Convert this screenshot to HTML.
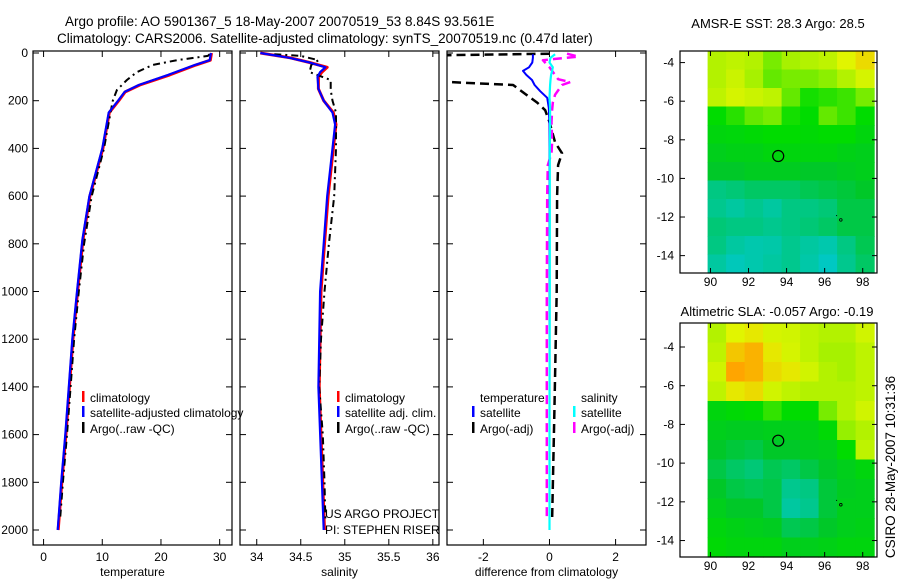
<!DOCTYPE html>
<html><head><meta charset="utf-8"><style>
html,body{margin:0;padding:0;background:#fff;}
svg{display:block;font-family:"Liberation Sans",sans-serif;}
</style></head><body>
<svg id="fig" width="900" height="580" viewBox="0 0 900 580" xmlns="http://www.w3.org/2000/svg">
<text x="65" y="26" font-size="13.5">Argo profile: AO 5901367_5 18-May-2007 20070519_53 8.84S 93.561E</text>
<text x="57" y="43" font-size="13.5">Climatology: CARS2006. Satellite-adjusted climatology: synTS_20070519.nc (0.47d later)</text>
<text x="778" y="28" font-size="13" text-anchor="middle">AMSR-E SST: 28.3 Argo: 28.5</text>
<text x="777" y="316" font-size="13" text-anchor="middle">Altimetric SLA: -0.057 Argo: -0.19</text>
<text x="0" y="0" font-size="13.5" text-anchor="middle" transform="translate(895,467) rotate(-90)">CSIRO 28-May-2007 10:31:36</text>
<g id="plots"></g>
</svg>
<script>
// ---- profile data (depth in dbar) ----
const tDepth = [0,30,50,92,134,163,200,250,400,600,785,1000,1200,1400,1600,1800,2000];
const tClim  = [28.6,28.4,26,21.5,16.4,13.9,12.8,11.2,10.1,7.9,6.7,5.8,5.0,4.4,3.8,3.1,2.5];
const tSat   = [28.5,28.3,25.8,21.2,16.2,13.8,12.7,11.1,10.0,7.8,6.6,5.7,4.9,4.3,3.7,3.0,2.4];
const aDepth = [5,12,30,50,80,113,155,200,250,400,600,800,1000,1200,1400,1600,1800,1960];
const tArgo  = [28.3,28,22.7,18.6,15.9,14.2,12.5,11.8,11.4,10.3,8.2,6.9,6.0,5.2,4.6,4.0,3.3,2.8];
const sDepth = [0,20,40,60,80,100,150,200,250,300,400,600,800,1000,1400,2000];
const sClim  = [34.04,34.38,34.6,34.8,34.74,34.7,34.7,34.76,34.87,34.9,34.87,34.81,34.77,34.73,34.71,34.77];
const sSat   = [34.04,34.37,34.6,34.78,34.72,34.69,34.7,34.76,34.86,34.89,34.86,34.8,34.76,34.72,34.7,34.76];
const sArgo  = [34.2,34.5,34.7,34.62,34.6,34.84,34.84,34.86,34.9,34.9,34.88,34.82,34.77,34.73,34.71,34.75,34.77,34.78];
// differences
const dDepth = [5,20,40,60,75,92,113,134,160,188,230,300,400,600,1000,1500,2000];
const dTSat  = [-0.5,-0.5,-0.52,-0.62,-0.8,-0.7,-0.53,-0.45,-0.28,-0.07,-0.02,0,0,0,0,0,0];
const dSSat  = [0.17,0.03,0,0.1,0.08,0.05,0.03,0.02,0.01,0,0.02,0.02,0.01,0.01,0.01,0,0];
const daDepth= [3,15,30,60,110,122,134,175,208,240,290,375,420,470,600,1000,1500,1960];
const dTArgo = [0,-6,-6,-6,-6,-3,-1.1,-0.7,-0.37,-0.13,0,0.17,0.38,0.26,0.23,0.22,0.15,0.08];
const dSArgo = [0.53,0.87,-0.2,0,0.26,0.63,0.38,0.17,0.1,0.08,0.06,0.08,0.06,-0.05,-0.07,-0.08,-0.08,-0.08];
// ---- axis labels ----
const depthTicks = [0,200,400,600,800,1000,1200,1400,1600,1800,2000];
const tTicks = [0,10,20,30];
const sTicks = [34,34.5,35,35.5,36];
const dTicks = [-2,0,2];
const lonTicks = [90,92,94,96,98];
const latTicks = [-4,-6,-8,-10,-12,-14];
// ---- map grids (normalized 0..1), 9 lon cols x 12 lat rows ----
const sstGrid = [
[0.8,0.82,0.8,0.72,0.78,0.8,0.82,0.88,0.92],
[0.8,0.84,0.78,0.7,0.72,0.72,0.74,0.8,0.86],
[0.82,0.86,0.84,0.82,0.7,0.62,0.64,0.66,0.72],
[0.6,0.64,0.7,0.72,0.62,0.6,0.7,0.66,0.6],
[0.55,0.56,0.58,0.6,0.6,0.58,0.6,0.6,0.55],
[0.5,0.52,0.52,0.55,0.55,0.55,0.55,0.52,0.5],
[0.45,0.45,0.48,0.48,0.48,0.45,0.45,0.48,0.5],
[0.3,0.32,0.35,0.35,0.35,0.38,0.4,0.42,0.45],
[0.28,0.25,0.28,0.25,0.3,0.3,0.32,0.4,0.4],
[0.32,0.3,0.3,0.28,0.3,0.32,0.35,0.4,0.4],
[0.3,0.25,0.2,0.22,0.28,0.25,0.2,0.3,0.38],
[0.25,0.15,0.2,0.25,0.28,0.22,0.12,0.28,0.35]];
const slaGrid = [
[0.8,0.88,0.9,0.86,0.85,0.82,0.8,0.8,0.85],
[0.82,0.95,0.98,0.9,0.86,0.82,0.78,0.78,0.82],
[0.85,1.0,0.98,0.92,0.9,0.85,0.8,0.78,0.82],
[0.82,0.9,0.92,0.85,0.82,0.8,0.8,0.8,0.82],
[0.55,0.58,0.6,0.65,0.6,0.6,0.72,0.8,0.85],
[0.5,0.48,0.48,0.5,0.5,0.52,0.58,0.75,0.8],
[0.45,0.42,0.4,0.45,0.45,0.48,0.5,0.6,0.82],
[0.4,0.35,0.32,0.38,0.35,0.4,0.45,0.5,0.55],
[0.45,0.4,0.38,0.4,0.28,0.3,0.42,0.48,0.5],
[0.5,0.45,0.45,0.4,0.25,0.28,0.42,0.5,0.5],
[0.55,0.52,0.5,0.48,0.38,0.4,0.45,0.5,0.52],
[0.58,0.55,0.55,0.55,0.5,0.5,0.52,0.55,0.55]];
const floatLon = 93.56, floatLat = -8.84;

const NS="http://www.w3.org/2000/svg";
const root=document.getElementById('plots');
function mk(tag,attrs,parent){const e=document.createElementNS(NS,tag);for(const k in attrs)e.setAttribute(k,attrs[k]);(parent||root).appendChild(e);return e;}
function txt(s,x,y,anchor,parent,size){const t=mk('text',{x:x,y:y,'font-size':size||12,'text-anchor':anchor||'start'},parent);t.textContent=s;return t;}

const pTop=51,pBot=545;
const yD=d=>53+d*0.2385;
function panel(id,x0,x1,xmin,xmax,ticks,xlabel,tickLabels){
  const g=mk('g',{});
  
  
  const sx=v=>x0+(v-xmin)/(xmax-xmin)*(x1-x0);
  const cid='clip-'+id;
  const cp=mk('clipPath',{id:cid},g);mk('rect',{x:x0,y:pTop,width:x1-x0,height:pBot-pTop},cp);
  mk('rect',{x:x0,y:pTop,width:x1-x0,height:pBot-pTop,fill:'none',stroke:'#000','stroke-width':1.2},g);
  depthTicks.forEach(d=>{const y=yD(d);mk('line',{x1:x0,x2:x0+6,y1:y,y2:y,stroke:'#000'},g);mk('line',{x1:x1-6,x2:x1,y1:y,y2:y,stroke:'#000'},g);});
  ticks.forEach((v,i)=>{const x=sx(v);mk('line',{x1:x,x2:x,y1:pTop,y2:pTop+6,stroke:'#000'},g);mk('line',{x1:x,x2:x,y1:pBot-6,y2:pBot,stroke:'#000'},g);
    const t=txt(tickLabels[i],x,561,'middle',g);});
  const xl=txt(xlabel,(x0+x1)/2,576,'middle',g);
  const lines=mk('g',{'clip-path':'url(#'+cid+')'},g);
  return {g,sx,lines};
}
function series(p,depths,vals,color,width,dash,name){
  const pts=depths.map((d,i)=>p.sx(vals[i]).toFixed(1)+','+yD(d).toFixed(1)).join(' ');
  const a={points:pts,fill:'none',stroke:color,'stroke-width':width,'stroke-linejoin':'round'};
  if(dash)a['stroke-dasharray']=dash;
  const e=mk('polyline',a,p.lines);
  
  
}
function legendEntry(g,x,y,color,label,name){
  mk('rect',{x:x,y:y-11,width:2.5,height:11,fill:color},g);
  const t=txt(label,x+8,y,'start',g);
  
  
}

// y tick labels
depthTicks.forEach(d=>{const t=txt(String(d),28,yD(d)+4,'end');});

const p1=panel('temperature-panel',33,232,-1.8,32.1,tTicks,'temperature',tTicks.map(String));
series(p1,tDepth,tClim,'#f00',3,null,'temp-climatology-line');
series(p1,aDepth,tArgo,'#000',2,'7,4,2,4','temp-argo-line');
series(p1,tDepth,tSat,'#00f',2.2,null,'temp-satellite-line');
legendEntry(p1.g,82,402,'#f00','climatology','legend-climatology');
legendEntry(p1.g,82,417,'#00f','satellite-adjusted climatology','legend-satellite');
legendEntry(p1.g,82,433,'#000','Argo(..raw -QC)','legend-argo');

const p2=panel('salinity-panel',240,439,33.81,36.07,sTicks,'salinity',sTicks.map(String));
series(p2,sDepth,sClim,'#f00',3,null,'sal-climatology-line');
series(p2,aDepth,sArgo,'#000',2,'7,4,2,4','sal-argo-line');
series(p2,sDepth,sSat,'#00f',2.2,null,'sal-satellite-line');
legendEntry(p2.g,337,402,'#f00','climatology','legend-climatology');
legendEntry(p2.g,337,417,'#00f','satellite adj. clim.','legend-satellite');
legendEntry(p2.g,337,433,'#000','Argo(..raw -QC)','legend-argo');
const n1=txt('US ARGO PROJECT',325,518,'start',p2.g);
const n2=txt('PI: STEPHEN RISER',325,534,'start',p2.g);

const p3=panel('difference-panel',447,646,-3.1,2.92,dTicks,'difference from climatology',dTicks.map(String));
series(p3,daDepth,dTArgo,'#000',2.5,'9,5','diff-temp-argo-line');
series(p3,daDepth,dSArgo,'#f0f',2.5,'9,5','diff-sal-argo-line');
series(p3,dDepth,dTSat,'#00f',2,null,'diff-temp-satellite-line');
series(p3,dDepth,dSSat,'#0ff',2.2,null,'diff-sal-satellite-line');
const h1=txt('temperature',480,402,'start',p3.g);
const h2=txt('salinity',581,402,'start',p3.g);
legendEntry(p3.g,472,417,'#00f','satellite','legend-temp-satellite');
legendEntry(p3.g,472,433,'#000','Argo(-adj)','legend-temp-argo');
legendEntry(p3.g,573,417,'#0ff','satellite','legend-sal-satellite');
legendEntry(p3.g,573,433,'#f0f','Argo(-adj)','legend-sal-argo');

// ---- maps ----
const stops=[[0,[0,200,225]],[0.25,[0,200,160]],[0.45,[0,200,40]],[0.6,[0,220,0]],[0.75,[150,240,0]],[0.88,[225,245,0]],[1,[255,165,0]]];
function cmap(v){for(let i=1;i<stops.length;i++){if(v<=stops[i][0]){const a=stops[i-1],b=stops[i],t=(v-a[0])/(b[0]-a[0]);return 'rgb('+a[1].map((c,k)=>Math.round(c+(b[1][k]-c)*t)).join(',')+')';}}return 'rgb(255,165,0)';}
function drawMap(id,grid,y0,y1,latTop,latBot){
  const x0=680,x1=877,lonL=88.4,lonR=98.75;
  const g=mk('g',{});
  
  
  const sx=lon=>x0+(lon-lonL)/(lonR-lonL)*(x1-x0);
  const sy=lat=>y0+(latTop-lat)/(latTop-latBot)*(y1-y0);
  const gL=89.85,gR=98.6,rows=grid.length,cols=grid[0].length;
  const cw=(gR-gL)/cols,rh=(latTop-latBot)/rows;
  grid.forEach((row,r)=>row.forEach((v,c)=>{
    const xa=sx(gL+c*cw),xb=sx(gL+(c+1)*cw),ya=sy(latTop-r*rh),yb=sy(latTop-(r+1)*rh);
    const cell=mk('rect',{x:xa.toFixed(1),y:ya.toFixed(1),width:(xb-xa+0.6).toFixed(1),height:(yb-ya+0.6).toFixed(1),fill:cmap(v)},g);
    
    
  }));
  mk('rect',{x:x0,y:y0,width:x1-x0,height:y1-y0,fill:'none',stroke:'#000','stroke-width':1.2},g);
  lonTicks.forEach(l=>{const x=sx(l);mk('line',{x1:x,x2:x,y1:y0,y2:y0+5,stroke:'#000'},g);mk('line',{x1:x,x2:x,y1:y1-5,y2:y1,stroke:'#000'},g);
    const t=txt(String(l),x,y1+13,'middle',g);});
  latTicks.forEach(l=>{const y=sy(l);mk('line',{x1:x0,x2:x0+5,y1:y,y2:y,stroke:'#000'},g);mk('line',{x1:x1-5,x2:x1,y1:y,y2:y,stroke:'#000'},g);
    const t=txt(String(l),674,y+4,'end',g);});
  const c=mk('circle',{cx:sx(floatLon),cy:sy(floatLat),r:5.5,fill:'none',stroke:'#000','stroke-width':1.2},g);
  
  
  mk('circle',{cx:sx(96.85),cy:sy(-12.15),r:1.3,fill:'none',stroke:'#000','stroke-width':0.8},g);
  mk('rect',{x:sx(96.6),y:sy(-11.9),width:1,height:1,fill:'#000'},g);
}
drawMap('sst-map',sstGrid,51,273,-3.4,-14.9);
drawMap('sla-map',slaGrid,323,557,-2.76,-14.85);
</script>
</body></html>
